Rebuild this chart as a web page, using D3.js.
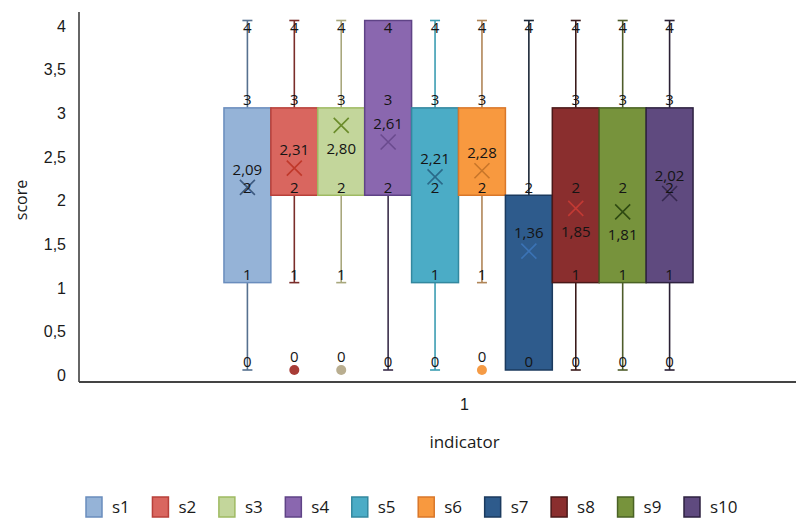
<!DOCTYPE html>
<html>
<head>
<meta charset="utf-8">
<script src="https://cdn.jsdelivr.net/npm/d3@7"></script>
<style>
  html, body { margin: 0; padding: 0; background: #fff; }
  svg { display: block; font-family: "Open Sans", "Noto Sans", sans-serif; }
</style>
</head>
<body>
<svg id="chart" width="796" height="519"></svg>
<script>
// ---- data ----
const categories = ["1"];
const series = ["s1","s2","s3","s4","s5","s6","s7","s8","s9","s10"];
const mins    = [0, 1, 1, 0, 0, 1, 0, 0, 0, 0];
const q1s     = [1, 2, 2, 2, 1, 2, 0, 1, 1, 1];
const medians = [2, 2, 2, 3, 2, 2, 2, 2, 2, 2];
const q3s     = [3, 3, 3, 4, 3, 3, 2, 3, 3, 3];
const maxs    = [4, 4, 4, 4, 4, 4, 4, 4, 4, 4];
const means   = [2.09, 2.31, 2.80, 2.61, 2.21, 2.28, 1.36, 1.85, 1.81, 2.02];
const outliers = [[], [0], [0], [], [], [0], [], [], [], []];
const yTicks = [0, 0.5, 1, 1.5, 2, 2.5, 3, 3.5, 4];

// ---- styles ----
const fills   = ["#95b3d7","#d9665f","#c3d69b","#8a67af","#4bacc6","#f8993f","#2e5b8c","#8a2e2e","#77933c","#5f4a7f"];
const strokes = ["#6a8dbd","#b8403a","#9fba62","#5f4386","#33889f","#d9772a","#1b3a5e","#4a1818","#4a6224","#2e2240"];
const whisk   = ["#56708f","#7a2d2a","#a8a77c","#3a2e4a","#3c9db2","#b08557","#1a2636","#3a1a1a","#4e5c2a","#2a2034"];
const xCol    = ["#3d5a80","#c0392b","#6b8c2b","#6a4a8e","#2a6a8a","#c8762a","#3b73b5","#c23a34","#2f4a12","#36284f"];
const outCol  = ["#000","#a83c36","#b9ae90","#000","#000","#f59b45","#000","#000","#000","#000"];

const loc = d3.formatLocale({decimal: ",", thousands: ".", grouping: [3], currency: ["", ""]});
const fTick = loc.format(".1~f");
const fMean = loc.format(".2f");

const svg = d3.select("#chart");
const plotTop = 12, plotLeft = 79, plotBottom = 382;

const y = d3.scaleLinear().domain([0, 4]).range([370, 20.5]);
const x0 = d3.scaleBand().domain(categories).range([plotLeft, 838]);
const x1 = d3.scaleBand().domain(series).range([x0("1"), x0("1") + x0.bandwidth()])
  .paddingInner(0).paddingOuter(3.09);

// ---- axes ----
const yAxis = d3.axisLeft(y).tickValues(yTicks).tickFormat(fTick).tickSize(0).tickPadding(0);
const gy = svg.append("g").attr("transform", `translate(${plotLeft},0)`).call(yAxis);
gy.select(".domain").remove();
gy.selectAll("text").attr("x", -13).attr("y", 5).attr("dy", "0.35em")
  .style("font-size", "16px").attr("fill", "#1a1a1a");
svg.append("line").attr("x1", plotLeft).attr("x2", plotLeft).attr("y1", plotTop).attr("y2", plotBottom)
  .attr("stroke", "#333").attr("stroke-width", 1.5);

const xAxis = d3.axisBottom(x0).tickSize(0).tickPadding(0);
const gx = svg.append("g").attr("transform", `translate(0,${plotBottom})`).call(xAxis);
gx.select(".domain").remove();
gx.selectAll("text").attr("y", 17).attr("dx", 6).style("font-size", "16px").attr("fill", "#1a1a1a");
svg.append("line").attr("x1", plotLeft).attr("x2", 796).attr("y1", plotBottom).attr("y2", plotBottom)
  .attr("stroke", "#444").attr("stroke-width", 2);

svg.append("text").attr("transform", "translate(21,200) rotate(-90)").attr("text-anchor", "middle")
  .attr("dy", "0.35em").style("font-size", "16px").attr("fill", "#1a1a1a").text("score");
svg.append("text").attr("x", x0("1") + x0.bandwidth() / 2 + 6).attr("y", 442).attr("text-anchor", "middle")
  .attr("dy", "0.35em").style("font-size", "17px").attr("fill", "#1a1a1a").text("indicator");

// ---- boxes ----
const capW = 10;
const g = svg.append("g");
series.forEach((s, i) => {
  const bx = x1(s), bw = x1.bandwidth(), cx = bx + bw / 2;
  if (maxs[i] > q3s[i]) {
    g.append("line").attr("x1", cx).attr("x2", cx).attr("y1", y(q3s[i])).attr("y2", y(maxs[i]))
      .attr("stroke", whisk[i]).attr("stroke-width", 1.6);
    g.append("line").attr("x1", cx - capW / 2).attr("x2", cx + capW / 2).attr("y1", y(maxs[i])).attr("y2", y(maxs[i]))
      .attr("stroke", whisk[i]).attr("stroke-width", 1.6);
  }
  if (mins[i] < q1s[i]) {
    g.append("line").attr("x1", cx).attr("x2", cx).attr("y1", y(q1s[i])).attr("y2", y(mins[i]))
      .attr("stroke", whisk[i]).attr("stroke-width", 1.6);
    g.append("line").attr("x1", cx - capW / 2).attr("x2", cx + capW / 2).attr("y1", y(mins[i])).attr("y2", y(mins[i]))
      .attr("stroke", whisk[i]).attr("stroke-width", 1.6);
  }
  g.append("rect").attr("x", bx).attr("y", y(q3s[i])).attr("width", bw).attr("height", y(q1s[i]) - y(q3s[i]))
    .attr("fill", fills[i]).attr("stroke", strokes[i]).attr("stroke-width", 1.5);
  outliers[i].forEach(v => {
    g.append("circle").attr("cx", cx).attr("cy", y(v)).attr("r", 5).attr("fill", outCol[i]);
  });
});

series.forEach((s, i) => {
  const cx = x1(s) + x1.bandwidth() / 2, my = y(means[i]), h = 7.5;
  g.append("path").attr("d", `M${cx - h},${my - h}L${cx + h},${my + h}M${cx - h},${my + h}L${cx + h},${my - h}`)
    .attr("stroke", xCol[i]).attr("stroke-width", 1.6).attr("fill", "none");
});

const lbl = svg.append("g").style("font-size", "15px").attr("fill", "#141414").attr("text-anchor", "middle");
series.forEach((s, i) => {
  const cx = x1(s) + x1.bandwidth() / 2;
  const vals = Array.from(new Set([mins[i], q1s[i], medians[i], q3s[i], maxs[i]]));
  vals.forEach(v => {
    const ty = Math.max(y(v) - 8, plotTop + 16);
    lbl.append("text").attr("x", cx).attr("y", ty).attr("dy", "0.35em").text(fTick(v));
  });
  outliers[i].forEach(v => {
    lbl.append("text").attr("x", cx).attr("y", y(v) - 13).attr("dy", "0.35em").text(fTick(v));
  });
  const dq3 = q3s[i] - means[i], dmed = medians[i] - means[i];
  const below = (dq3 > 0 && dq3 < 0.25) || (dmed > 0 && dmed < 0.25);
  lbl.append("text").attr("x", cx).attr("y", y(means[i]) + (below ? 23 : -18)).attr("dy", "0.35em")
    .text(fMean(means[i]));
});

// ---- legend ----
const lx = d3.scalePoint().domain(series).range([86, 684]);
const leg = svg.append("g");
series.forEach((s, i) => {
  leg.append("rect").attr("x", lx(s)).attr("y", 497).attr("width", 16).attr("height", 20)
    .attr("fill", fills[i]).attr("stroke", strokes[i]).attr("stroke-width", 1.5);
  leg.append("text").attr("x", lx(s) + 26).attr("y", 507).attr("dy", "0.35em")
    .style("font-size", "17px").attr("fill", "#1a1a1a").text(s);
});
</script>
</body>
</html>
